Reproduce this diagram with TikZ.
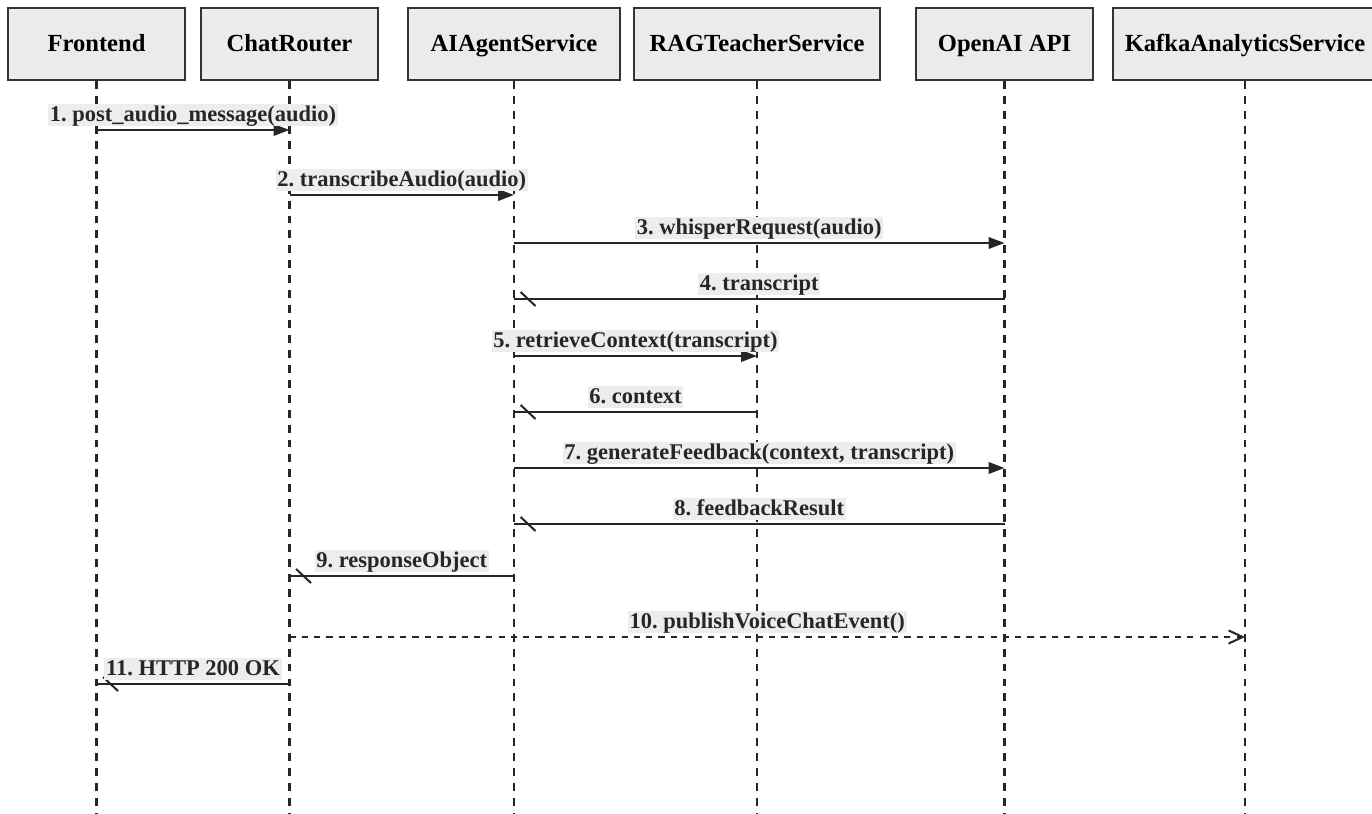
\documentclass[tikz,border=0pt]{standalone}
\usepackage{fontspec}
\setmainfont{Liberation Serif}
\frenchspacing
\usetikzlibrary{arrows.meta,decorations.markings}

\begin{document}
\begin{tikzpicture}[x=0.02cm,y=-0.02cm,
	actor/.style={draw=black!80,fill=black!8,line width=1.3pt,minimum height=1.44cm,
		text height=0.88em,text depth=0pt,font=\fontsize{14}{17}\selectfont\bfseries},
	life/.style={line width=1.2pt,dash pattern=on 4.5pt off 4pt,black!85},
	msg/.style={line width=1.15pt,black!85},
	call/.style={msg,-{Triangle[length=9pt,width=6.5pt]}},
	reply/.style={msg,postaction={decorate,decoration={markings,
		mark=at position -8pt with {\draw[msg] (-4.25pt,4pt) -- (4.25pt,-4pt);}}}},
	event/.style={msg,dash pattern=on 3.5pt off 3.5pt,-{Straight Barb[length=8pt,width=7.5pt]}},
	lbl/.style={fill=black!7,inner xsep=1pt,inner ysep=0.5pt,text height=0.95em,text depth=0.25em,
		font=\fontsize{12.8}{15}\selectfont\bfseries,above=1.5pt}]
	\useasboundingbox (0,0) rectangle (1372,814);
	\clip (0,0) rectangle (1372,814);
	% participants
	\node[actor,minimum width=3.54cm] (FE) at (96.5,44) {Frontend};
	\node[actor,minimum width=3.54cm] (CR) at (289.5,44) {ChatRouter};
	\node[actor,minimum width=4.24cm] (AI) at (514,44) {AIAgentService};
	\node[actor,minimum width=4.92cm] (RAG) at (757,44) {RAGTeacherService};
	\node[actor,minimum width=3.54cm] (OAI) at (1004.5,44) {OpenAI API};
	\node[actor,minimum width=5.28cm] (KAS) at (1245,44) {KafkaAnalyticsService};
	% message rows
	\coordinate (r1) at (0,130);
	\coordinate (r2) at (0,195);
	\coordinate (r3) at (0,243);
	\coordinate (r4) at (0,299);
	\coordinate (r5) at (0,356);
	\coordinate (r6) at (0,412);
	\coordinate (r7) at (0,468);
	\coordinate (r8) at (0,524);
	\coordinate (r9) at (0,576);
	\coordinate (r10) at (0,637);
	\coordinate (r11) at (0,684);
	\coordinate (bottom) at (0,814);
	%
	\path
	% lifelines
	(FE.south) edge[life] (FE |- bottom)
	(CR.south) edge[life] (CR |- bottom)
	(AI.south) edge[life] (AI |- bottom)
	(RAG.south) edge[life] (RAG |- bottom)
	(OAI.south) edge[life] (OAI |- bottom)
	(KAS.south) edge[life] (KAS |- bottom);
	%
	\path
	% calls
	(FE |- r1) edge[call] node[lbl]{1. post\_audio\_message(audio)} (CR |- r1)
	(CR |- r2) edge[call] node[lbl]{2. transcribeAudio(audio)} (AI |- r2)
	(AI |- r3) edge[call] node[lbl]{3. whisperRequest(audio)} (OAI |- r3)
	(AI |- r5) edge[call] node[lbl]{5. retrieveContext(transcript)} (RAG |- r5)
	(AI |- r7) edge[call] node[lbl]{7. generateFeedback(context, transcript)} (OAI |- r7)
	% replies
	(OAI |- r4) edge[reply] node[lbl]{4. transcript} (AI |- r4)
	(RAG |- r6) edge[reply] node[lbl]{6. context} (AI |- r6)
	(OAI |- r8) edge[reply] node[lbl]{8. feedbackResult} (AI |- r8)
	(AI |- r9) edge[reply] node[lbl]{9. responseObject} (CR |- r9)
	(CR |- r11) edge[reply] node[lbl]{11. HTTP 200 OK} (FE |- r11)
	% async event
	(CR |- r10) edge[event] node[lbl]{10. publishVoiceChatEvent()} (KAS |- r10);
\end{tikzpicture}
\end{document}
